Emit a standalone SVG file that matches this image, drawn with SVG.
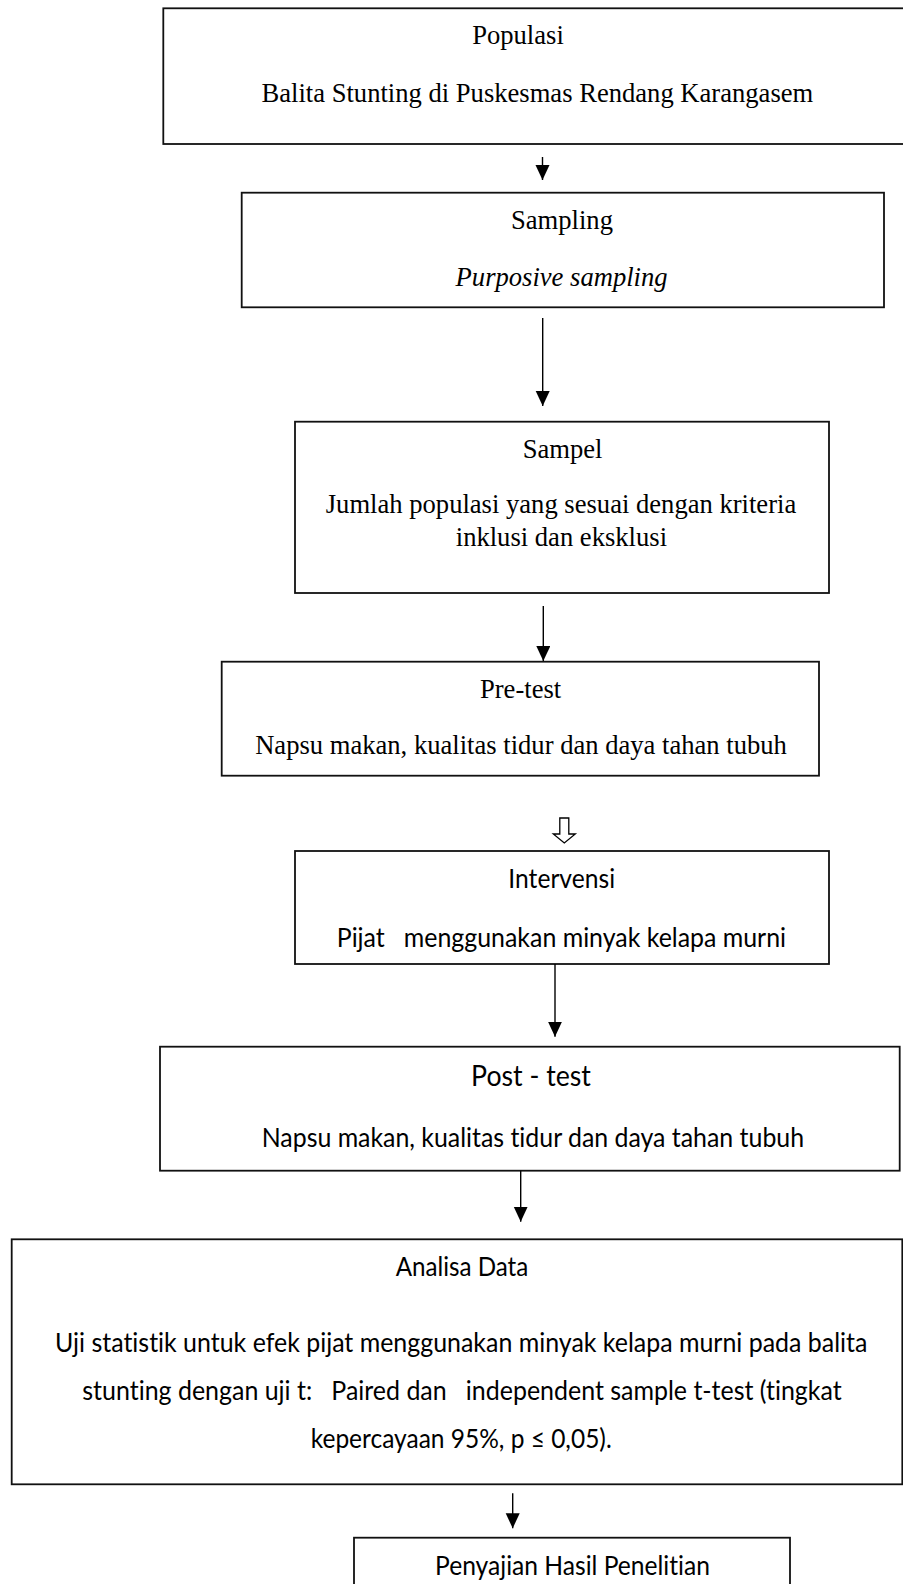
<svg xmlns="http://www.w3.org/2000/svg" width="903" height="1584" viewBox="0 0 903 1584">
<style>
.box{fill:#fff;stroke:#111;stroke-width:1.8}
.t{font-family:"Liberation Serif","Times New Roman",serif;font-size:26.6px;fill:#000;text-anchor:middle}
.c{font-family:Lato,"Liberation Sans",sans-serif;font-size:26.6px;fill:#000;text-anchor:middle;font-variant-ligatures:none;font-feature-settings:"liga" 0,"clig" 0}
.ln{stroke:#000;stroke-width:1.4;fill:none}
</style>
<defs>
<marker id="ah" markerUnits="userSpaceOnUse" markerWidth="16" markerHeight="15" refX="15" refY="7" orient="auto" viewBox="0 0 16 15">
<path d="M0,0 L15,7 L0,14 z" fill="#000"/>
</marker>
</defs>
<rect width="903" height="1584" fill="#fff"/>
<g id="populasi">
<rect class="box" x="163.3" y="8.3" width="742" height="135.7"/>
<text class="t" x="518" y="44">Populasi</text>
<text class="t" x="537.4" y="101.7">Balita Stunting di Puskesmas Rendang Karangasem</text>
</g>
<g id="sampling">
<rect class="box" x="241.7" y="192.7" width="642.3" height="114.6"/>
<text class="t" x="562" y="229">Sampling</text>
<text class="t" x="561.6" y="286" font-style="italic">Purposive sampling</text>
</g>
<g id="sampel">
<rect class="box" x="295" y="421.7" width="534" height="171.3"/>
<text class="t" x="562.6" y="457.7">Sampel</text>
<text class="t" x="561" y="513">Jumlah populasi yang sesuai dengan kriteria</text>
<text class="t" x="561.4" y="545.7">inklusi dan eksklusi</text>
</g>
<g id="pretest">
<rect class="box" x="221.7" y="661.7" width="597.3" height="114"/>
<text class="t" x="520.6" y="698">Pre-test</text>
<text class="t" x="521" y="754">Napsu makan, kualitas tidur dan daya tahan tubuh</text>
</g>
<g id="intervensi">
<rect class="box" x="295" y="851" width="534" height="113"/>
<text class="c" x="561.7" y="888.3" textLength="106.7" lengthAdjust="spacingAndGlyphs">Intervensi</text>
<text class="c" x="561.4" y="946.7" xml:space="preserve" textLength="449.3" lengthAdjust="spacingAndGlyphs">Pijat   menggunakan minyak kelapa murni</text>
</g>
<g id="posttest">
<rect class="box" x="160" y="1046.7" width="739.7" height="124"/>
<text class="c" x="531" y="1086" style="font-size:29.3px" textLength="119.8" lengthAdjust="spacingAndGlyphs">Post - test</text>
<text class="c" x="532.9" y="1146.7" textLength="542.3" lengthAdjust="spacingAndGlyphs">Napsu makan, kualitas tidur dan daya tahan tubuh</text>
</g>
<g id="analisa">
<rect class="box" x="11.7" y="1239.3" width="890.6" height="245"/>
<text class="c" x="462" y="1276" textLength="132.6" lengthAdjust="spacingAndGlyphs">Analisa Data</text>
<text class="c" x="461.2" y="1351.7" textLength="812.3" lengthAdjust="spacingAndGlyphs">Uji statistik untuk efek pijat menggunakan minyak kelapa murni pada balita</text>
<text class="c" x="462" y="1400" xml:space="preserve" textLength="759.4" lengthAdjust="spacingAndGlyphs">stunting dengan uji t:   Paired dan   independent sample t-test (tingkat</text>
<text class="c" x="461.2" y="1448.3" textLength="301" lengthAdjust="spacingAndGlyphs">kepercayaan 95%, p ≤ 0,05).</text>
</g>
<g id="penyajian">
<rect class="box" x="354" y="1537.7" width="436" height="70"/>
<text class="c" x="572.5" y="1575" textLength="275" lengthAdjust="spacingAndGlyphs">Penyajian Hasil Penelitian</text>
</g>
<g id="connectors">
<line class="ln" x1="542.5" y1="157" x2="542.5" y2="180" marker-end="url(#ah)"/>
<line class="ln" x1="542.7" y1="318" x2="542.7" y2="406" marker-end="url(#ah)"/>
<line class="ln" x1="543.3" y1="606" x2="543.3" y2="661" marker-end="url(#ah)"/>
<polygon points="559.8,818 568.8,818 568.8,834 575.3,834 564.3,843 553.3,834 559.8,834" fill="#fff" stroke="#000" stroke-width="1.3" stroke-linejoin="miter"/>
<line class="ln" x1="555" y1="964" x2="555" y2="1036.7" marker-end="url(#ah)"/>
<line class="ln" x1="520.7" y1="1170.7" x2="520.7" y2="1221.7" marker-end="url(#ah)"/>
<line class="ln" x1="512.7" y1="1493.3" x2="512.7" y2="1528.3" marker-end="url(#ah)"/>
</g>
</svg>
